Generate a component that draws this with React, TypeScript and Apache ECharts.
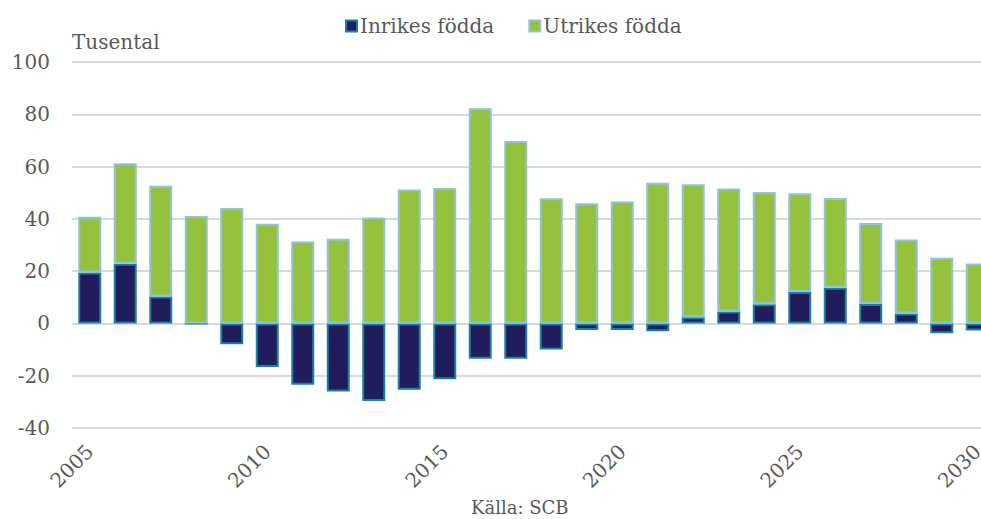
import React, { useEffect, useRef } from "react";
import * as echarts from "echarts";

const years = [
  "2005", "2006", "2007", "2008", "2009", "2010", "2011", "2012", "2013",
  "2014", "2015", "2016", "2017", "2018", "2019", "2020", "2021", "2022",
  "2023", "2024", "2025", "2026", "2027", "2028", "2029", "2030",
];
const inrikes = [
  19.5, 22.8, 10.3, 0, -8.0, -16.7, -23.5, -26.0, -29.7, -25.4, -21.4, -13.5,
  -13.5, -10.0, -2.5, -2.5, -3.0, 2.4, 4.6, 7.3, 12.0, 13.6, 7.4, 3.8, -3.8, -2.7,
];
const utrikes = [
  21.3, 38.5, 42.4, 41.1, 44.2, 38.1, 31.3, 32.4, 40.5, 51.2, 51.8, 82.3, 69.8,
  47.9, 46.0, 46.6, 53.8, 50.8, 47.0, 43.0, 37.8, 34.4, 31.0, 28.3, 25.1, 22.9,
];
const seriesNames = ["Inrikes födda", "Utrikes födda"];
const yTitle = "Tusental";
const source = "Källa: SCB";

const FONT = "DejaVu Serif";
const TXT = "#595959";

export default function App() {
  const ref = useRef<HTMLDivElement>(null);
  useEffect(() => {
    document.body.style.margin = "0";
    document.body.style.overflow = "hidden";
    const chart = echarts.init(ref.current!, null, { renderer: "svg" });
    chart.setOption({
      animation: false,
      textStyle: { fontFamily: FONT, color: TXT },
      legend: {
        left: 340,
        top: 11,
        icon: "rect",
        itemWidth: 11,
        itemHeight: 11,
        itemGap: 34,
        textStyle: { fontFamily: FONT, fontSize: 20, color: TXT, padding: [0, 0, 0, -2] },
        data: seriesNames,
      },
      grid: { left: 72, right: 0, top: 62, bottom: 91, containLabel: false },
      xAxis: {
        type: "category",
        data: years,
        axisLine: { show: false, onZero: false },
        axisTick: { show: false },
        axisLabel: {
          interval: 4,
          rotate: 45,
          margin: 20,
          fontFamily: FONT,
          fontSize: 20,
          color: TXT,
        },
      },
      yAxis: {
        type: "value",
        min: -40,
        max: 100,
        interval: 20,
        axisLine: { show: false },
        axisTick: { show: false },
        axisLabel: { margin: 22, fontFamily: FONT, fontSize: 20, color: TXT },
        splitLine: { lineStyle: { color: "#D9D9D9", width: 2 } },
      },
      graphic: [
        {
          type: "text",
          left: 72,
          top: 32,
          style: { text: yTitle, font: `20px "${FONT}"`, fill: TXT },
        },
        {
          type: "text",
          left: 471,
          top: 498,
          style: { text: source, font: `18px "${FONT}"`, fill: TXT },
        },
      ],
      series: [
        {
          name: seriesNames[0],
          type: "bar",
          stack: "total",
          barWidth: 23,
          data: inrikes,
          itemStyle: { color: "#211C5B", borderColor: "#1C7FA0", borderWidth: 2 },
        },
        {
          name: seriesNames[1],
          type: "bar",
          stack: "total",
          barWidth: 23,
          data: utrikes,
          itemStyle: { color: "#95C13D", borderColor: "#8EC3D8", borderWidth: 2 },
        },
      ],
    });
    return () => chart.dispose();
  }, []);
  return (
    <div style={{ width: 981, height: 519, overflow: "hidden", position: "relative" }}>
      <div ref={ref} style={{ width: 995, height: 519 }} />
    </div>
  );
}
